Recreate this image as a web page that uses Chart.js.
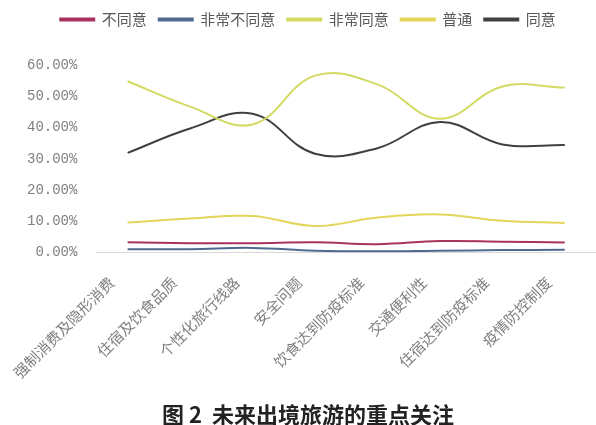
<!DOCTYPE html>
<html>
<head>
<meta charset="utf-8">
<script src="https://cdn.jsdelivr.net/npm/chart.js@4.4.1/dist/chart.umd.min.js"></script>
<style>
    html, body { margin: 0; padding: 0; background: #fff; }
    #wrap { width: 596px; height: 425px; }
</style>
</head>
<body>
<div id="wrap"><canvas id="chart"></canvas></div>
<script>
// categories along the x axis
const categories = ['强制消费及隐形消费', '住宿及饮食品质', '个性化旅行线路', '安全问题',
    '饮食达到防疫标准', '交通便利性', '住宿达到防疫标准', '疫情防控制度'];

// series values, percent
const disagree = [3.3, 3.0, 3.0, 3.3, 2.7, 3.7, 3.5, 3.2];          // 不同意
const stronglyDisagree = [1.1, 1.1, 1.5, 0.6, 0.4, 0.6, 0.8, 0.9];  // 非常不同意
const stronglyAgree = [54.8, 46.7, 41.0, 56.6, 53.8, 42.8, 53.1, 52.8]; // 非常同意
const neutral = [9.6, 10.9, 11.7, 8.5, 11.2, 12.2, 10.2, 9.5];      // 普通
const agree = [31.9, 39.7, 44.4, 31.6, 33.4, 41.8, 34.6, 34.4];     // 同意

// y tick values
const yTicks = [0, 10, 20, 30, 40, 50, 60];

const cjk = "'Noto Sans CJK SC', 'Noto Sans', sans-serif";

const makeSeries = (label, data, color) => ({
    label: label,
    data: data,
    borderColor: color,
    backgroundColor: color,
    borderWidth: 2,
    tension: 0.4,
    pointRadius: 0,
    fill: false
});

// push the plot area down below the legend
const legendGap = {
    id: 'legendGap',
    beforeInit(chart) {
        const fit = chart.legend.fit;
        chart.legend.fit = function () {
            fit.call(this);
            this.height += 28;
        };
    }
};

const ctx = document.getElementById('chart').getContext('2d');
const chart = new Chart(ctx, {
    type: 'line',
    data: {
        labels: categories,
        datasets: [
            makeSeries('不同意', disagree, '#a8325f'),
            makeSeries('非常不同意', stronglyDisagree, '#4f6a8f'),
            makeSeries('非常同意', stronglyAgree, '#d2da62'),
            makeSeries('普通', neutral, '#e4d55a'),
            makeSeries('同意', agree, '#404040')
        ]
    },
    plugins: [legendGap],
    options: {
        responsive: true,
        maintainAspectRatio: false,
        animation: false,
        layout: { padding: { left: 16, right: -4, top: 0, bottom: -3 } },
        plugins: {
            legend: {
                position: 'top',
                labels: {
                    boxWidth: 34,
                    boxHeight: 2,
                    padding: 12,
                    color: '#595959',
                    font: { family: cjk, size: 15 }
                }
            },
            title: {
                display: true,
                position: 'bottom',
                text: '图 2  未来出境旅游的重点关注',
                color: '#222',
                font: { family: cjk, size: 22, weight: 'bold' },
                padding: { top: 0, bottom: 0 }
            },
            tooltip: { enabled: false }
        },
        scales: {
            x: {
                offset: true,
                grid: { display: false },
                border: { color: '#d9d9d9', width: 1 },
                ticks: {
                    autoSkip: false,
                    minRotation: 45,
                    maxRotation: 45,
                    padding: 13,
                    labelOffset: -16,
                    color: '#7f7f7f',
                    font: { family: cjk, size: 15 }
                },
                afterFit: (scale) => { scale.height = 149; }
            },
            y: {
                min: 0,
                max: 60,
                afterBuildTicks: (scale) => { scale.ticks = yTicks.map(v => ({ value: v })); },
                grid: { display: false },
                border: { display: false },
                ticks: {
                    padding: 11,
                    color: '#7f7f7f',
                    font: { family: "'Liberation Mono', 'DejaVu Sans Mono', monospace", size: 14 },
                    callback: (value) => value.toFixed(2) + '%'
                }
            }
        }
    }
});
</script>
</body>
</html>
